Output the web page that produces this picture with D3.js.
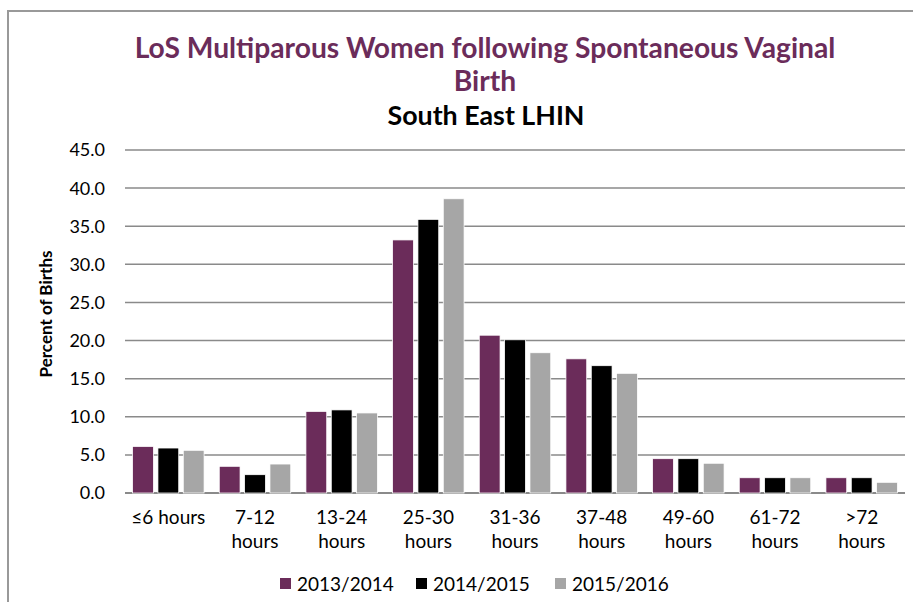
<!DOCTYPE html>
<html>
<head>
<meta charset="utf-8">
<script src="https://cdn.jsdelivr.net/npm/d3@7/dist/d3.min.js"></script>
<style>
  html, body { margin: 0; padding: 0; background: #fff; }
  svg { display: block; }
  text { font-family: Lato, "Open Sans", sans-serif; }
</style>
</head>
<body>
<svg id="chart" width="913" height="602"></svg>
<script>
const categories = [["≤6 hours"], ["7-12", "hours"], ["13-24", "hours"], ["25-30", "hours"], ["31-36", "hours"], ["37-48", "hours"], ["49-60", "hours"], ["61-72", "hours"], [">72", "hours"]];
const seriesNames = ["2013/2014", "2014/2015", "2015/2016"];
const seriesColors = ["#6B2C5A", "#000000", "#A6A6A6"];
const values2013 = [6.1, 3.5, 10.7, 33.2, 20.7, 17.6, 4.5, 2.0, 2.0];
const values2014 = [5.9, 2.4, 10.9, 35.9, 20.1, 16.7, 4.5, 2.0, 2.0];
const values2015 = [5.6, 3.8, 10.5, 38.6, 18.4, 15.7, 3.9, 2.0, 1.4];
const yTicks = [0, 5, 10, 15, 20, 25, 30, 35, 40, 45];
const titleLines = ["LoS Multiparous Women following Spontaneous Vaginal", "Birth"];
const subtitle = "South East LHIN";
const yLabel = "Percent of Births";

const seriesValues = [values2013, values2014, values2015];
const svg = d3.select("#chart");

// outer border
svg.append("rect").attr("x", 8).attr("y", 11).attr("width", 920).attr("height", 610)
  .attr("fill", "none").attr("stroke", "#999").attr("stroke-width", 2);

const catKeys = categories.map(c => c.join(" "));
const x = d3.scaleBand().domain(catKeys).range([125, 905]).paddingInner(0).paddingOuter(0);
const xs = d3.scaleBand().domain(seriesNames).range([0, x.bandwidth()]).paddingInner(0.18).paddingOuter(0.3);
const y = d3.scaleLinear().domain([0, 45]).range([493, 150]);

// gridlines
svg.append("g").selectAll("line").data(yTicks).join("line")
  .attr("x1", 125).attr("x2", 905)
  .attr("y1", d => y(d)).attr("y2", d => y(d))
  .attr("stroke", "#8a8a8a").attr("stroke-width", d => d === 0 ? 2 : 1.5);

// y tick labels
svg.append("g").selectAll("text").data(yTicks).join("text")
  .attr("x", 105).attr("y", d => y(d)).attr("dy", "0.36em")
  .attr("text-anchor", "end").attr("font-size", 18).attr("fill", "#000")
  .text(d => d.toFixed(1));

// bars
const groups = svg.append("g").selectAll("g").data(catKeys).join("g")
  .attr("transform", d => `translate(${x(d)},0)`);
groups.selectAll("rect").data((d, i) => seriesNames.map((s, j) => ({s, j, v: seriesValues[j][i]}))).join("rect")
  .attr("x", d => xs(d.s)).attr("width", xs.bandwidth())
  .attr("y", d => y(d.v)).attr("height", d => y(0) - y(d.v))
  .attr("fill", d => seriesColors[d.j])
  .attr("stroke", "#fff").attr("stroke-width", 0.75);

// x labels
const xl = svg.append("g").selectAll("text").data(categories).join("text")
  .attr("text-anchor", "middle").attr("font-size", 19).attr("fill", "#000")
  .attr("transform", (d, i) => `translate(${x(catKeys[i]) + x.bandwidth() / 2},0)`);
xl.selectAll("tspan").data(d => d).join("tspan")
  .attr("x", 0).attr("y", (d, i) => 524 + i * 24).text(d => d);

// y axis title
svg.append("text").attr("transform", "translate(52,314) rotate(-90)")
  .attr("text-anchor", "middle").attr("font-size", 17).attr("font-weight", "bold")
  .attr("fill", "#000").text(yLabel);

// title
const t1 = svg.append("text").attr("x", 485).attr("y", 58).attr("text-anchor", "middle")
  .attr("font-weight", "bold").attr("font-size", 24).attr("fill", "#6B2C5A").text(titleLines[0]);
const w1 = t1.node().getComputedTextLength();
const fs = 24 * 701 / w1;
t1.attr("font-size", fs);
svg.append("text").attr("x", 485).attr("y", 91).attr("text-anchor", "middle")
  .attr("font-weight", "bold").attr("font-size", fs).attr("fill", "#6B2C5A").text(titleLines[1]);
const t3 = svg.append("text").attr("x", 486).attr("y", 125).attr("text-anchor", "middle")
  .attr("font-weight", "bold").attr("font-size", 22).attr("fill", "#000").text(subtitle);
const w3 = t3.node().getComputedTextLength();
t3.attr("font-size", 22 * 197 / w3);

// legend
const legendX = [280, 416, 555];
const lg = svg.append("g").selectAll("g").data(seriesNames).join("g")
  .attr("transform", (d, i) => `translate(${legendX[i]},578)`);
lg.append("rect").attr("width", 11).attr("height", 11).attr("fill", (d, i) => seriesColors[i]);
lg.append("text").attr("x", 17).attr("y", 13).attr("font-size", 19).attr("fill", "#000").text(d => d);
</script>
</body>
</html>
